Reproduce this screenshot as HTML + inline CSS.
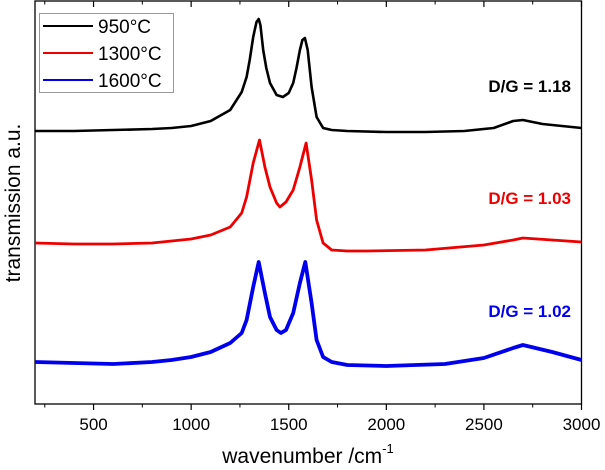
<!DOCTYPE html>
<html><head><meta charset="utf-8"><style>
body{margin:0;background:#fff}
svg{display:block;font-family:"Liberation Sans",Arial,sans-serif}
</style></head><body>
<svg id="chart" width="605" height="470" viewBox="0 0 605 470">
<g id="axes"></g>
<g id="series"></g>
<g id="legend">
<rect x="39.5" y="13.5" width="134" height="79" fill="#fff" stroke="#999" stroke-width="1"/>
<line x1="43" y1="26" x2="93" y2="26" stroke="#000" stroke-width="2"/>
<text x="98" y="33" font-size="19">950°C</text>
<line x1="43" y1="53" x2="93" y2="53" stroke="#e00" stroke-width="2"/>
<text x="98" y="60" font-size="19">1300°C</text>
<line x1="43" y1="80" x2="93" y2="80" stroke="#00e" stroke-width="2"/>
<text x="98" y="87" font-size="19">1600°C</text>
</g>
<text x="571" y="92" font-size="17" font-weight="bold" text-anchor="end" fill="#000">D/G = 1.18</text>
<text x="571" y="204" font-size="17" font-weight="bold" text-anchor="end" fill="#e00">D/G = 1.03</text>
<text x="571" y="317" font-size="17" font-weight="bold" text-anchor="end" fill="#00e">D/G = 1.02</text>
<text transform="translate(20,203) rotate(-90)" font-size="21" text-anchor="middle">transmission a.u.</text>
<text x="308" y="463" font-size="21" text-anchor="middle">wavenumber /cm<tspan font-size="13" dy="-10">-1</tspan></text>
</svg>
<script>
const xTicks=[500,1000,1500,2000,2500,3000];
const xMinor=[250,750,1250,1750,2250,2750];
const wn950=[200,400,600,800,900,1000,1100,1200,1233,1259,1284,1300,1318,1335,1346,1355,1369,1385,1404,1438,1470,1500,1523,1540,1557,1570,1583,1597,1617,1643,1676,1720,1800,2000,2200,2400,2550,2650,2700,2800,2900,3000];
const int950=[273,273,274,275,276,278,283,294,304,312,327,344,367,382,385,379,354,336,321,309,307,311,321,336,354,364,366,354,317,287,276,274,273,272,272,273,276,283,284,280,278,276];
const wn1300=[200,400,600,800,900,1000,1100,1200,1259,1284,1318,1350,1378,1404,1438,1455,1486,1523,1557,1589,1617,1643,1676,1720,1800,1900,2200,2500,2650,2700,2850,3000];
const int1300=[161,160,160,161,163,165,169,177,191,207,241,264,237,217,201,197,202,214,237,261,224,184,161,154,153,153,154,159,164,166,164,162];
const wn1600=[200,400,600,800,900,1000,1100,1200,1259,1284,1318,1346,1378,1404,1438,1460,1486,1523,1557,1585,1617,1643,1676,1720,1800,2000,2300,2500,2650,2700,2850,3000];
const int1600=[42,41,40,42,44,47,52,61,71,84,117,142,111,87,74,71,74,91,121,142,101,64,47,42,39,38,40,46,56,59,52,44];
const X0=35,X1=581.5,Y0=404,Y1=1,xmin=200,xmax=3000,ymin=0,ymax=403;
const sx=v=>X0+(v-xmin)/(xmax-xmin)*(X1-X0);
const sy=v=>Y0-(v-ymin)/(ymax-ymin)*(Y0-Y1);
const NS='http://www.w3.org/2000/svg';
const axes=document.getElementById('axes'),ser=document.getElementById('series');
function mk(t,a,p){const e=document.createElementNS(NS,t);for(const k in a)e.setAttribute(k,a[k]);p.appendChild(e);return e;}
const frame=mk('rect',{x:X0,y:Y1,width:X1-X0,height:Y0-Y1,fill:'none',stroke:'#000','stroke-width':1.3},axes);


xTicks.forEach(v=>{
 const t=mk('line',{x1:sx(v),x2:sx(v),y1:Y0,y2:Y0+6,stroke:'#000','stroke-width':1.2},axes);
 
 
 const tt=mk('line',{x1:sx(v),x2:sx(v),y1:Y1,y2:Y1+6,stroke:'#000','stroke-width':1.2},axes);
 
 
 const l=mk('text',{x:sx(v),y:Y0+26,'font-size':17,'text-anchor':'middle'},axes);
 l.textContent=v;
 
 
});
xMinor.forEach(v=>{
 const t=mk('line',{x1:sx(v),x2:sx(v),y1:Y0,y2:Y0+3.5,stroke:'#000','stroke-width':1},axes);
 
 
 const tt=mk('line',{x1:sx(v),x2:sx(v),y1:Y1,y2:Y1+3.5,stroke:'#000','stroke-width':1},axes);
 
 
});
function draw(wn,iv,col,w,name){
 const d=wn.map((v,i)=>(i?'L':'M')+sx(v).toFixed(1)+','+sy(iv[i]).toFixed(1)).join('');
 const p=mk('path',{d:d,fill:'none',stroke:col,'stroke-width':w,'stroke-linejoin':'round'},ser);
 
 
}
draw(wn950,int950,'#000',2.6,'spectrum-950c');
draw(wn1300,int1300,'#e00',2.8,'spectrum-1300c');
draw(wn1600,int1600,'#00e',3.8,'spectrum-1600c');
</script>
</body></html>
